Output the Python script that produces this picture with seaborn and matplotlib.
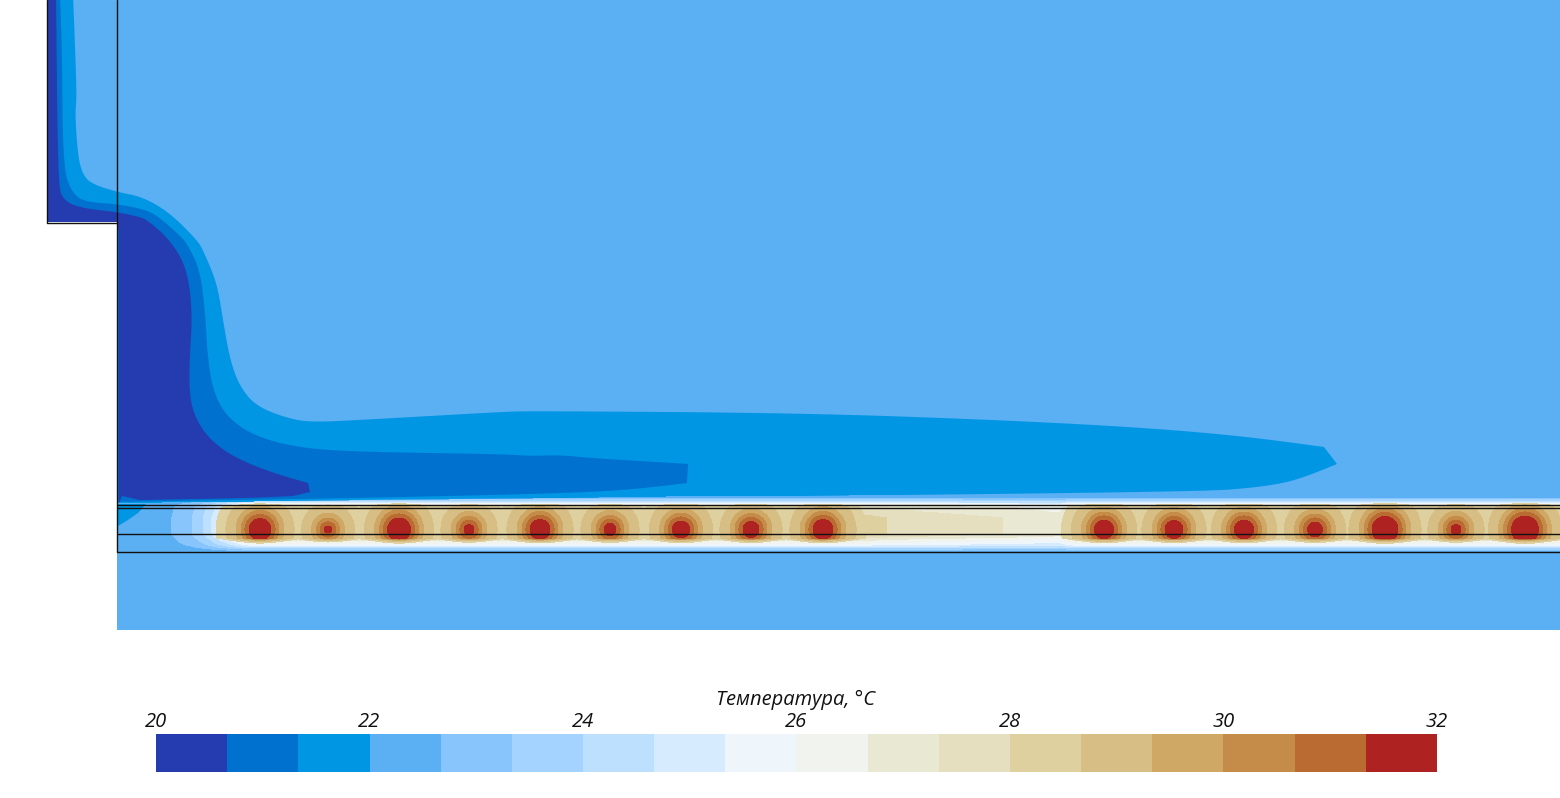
import numpy as np
import matplotlib
matplotlib.use("Agg")
import matplotlib.pyplot as plt
from matplotlib.colors import ListedColormap, BoundaryNorm
from matplotlib.patches import Polygon
import seaborn as sns

# --- colour scale -----------------------------------------------------------
band_colors = ["#243CB0", "#0071CF", "#0096E4", "#5BAFF3", "#88C5FD", "#A3D3FE",
               "#BDE0FE", "#D6EBFD", "#EEF6FB", "#F1F3EE", "#E9E8D2", "#E5DFC0",
               "#DFD09F", "#D7BE85", "#CFA866", "#C48B49", "#B96B31", "#AE2321"]
tick_values = [20, 22, 24, 26, 28, 30, 32]
colorbar_title = "Температура, °C"

# --- cold-air plume isotherm outlines -----------------------------------------
iso_22_x = [40, 73, 77, 75, 78, 83, 92, 117, 143, 170, 197, 203, 217, 223, 230, 240, 257, 293, 317, 360,
            500, 530, 800, 1000, 1150, 1250, 1324, 1337, 1310, 1285, 1250, 1210, 1000, 700, 300, 160, 110, 40]
iso_22_y = [-5, -5, 97, 113, 157, 175, 184, 192, 197, 213, 240, 250, 283, 320, 360, 387, 407, 420, 422, 420,
            412, 411, 413, 420, 428, 437, 447, 464, 475, 483, 488, 491, 494, 497, 500, 505, 530, 230]
iso_22_sharp = [0, 1, 26, 27, 36, 37]

iso_2133_x = [40, 60, 62, 63, 72, 85, 117, 147, 160, 177, 187, 200, 205, 208, 215, 230, 257, 300, 360,
              500, 530, 560, 590, 640, 688, 687, 620, 500, 300, 110, 40]
iso_2133_y = [-5, -5, 50, 167, 193, 202, 204, 210, 218, 233, 243, 270, 310, 363, 397, 420, 437, 448, 452,
              454, 456, 455, 458, 461, 464, 483, 491, 495, 499, 502, 230]
iso_2133_sharp = [0, 1, 24, 25, 29, 30]

iso_2067_x = [40, 56, 58, 63, 80, 117, 140, 147, 167, 183, 190, 192, 190, 189, 193, 207, 233, 273, 308,
              310, 293, 250, 140, 122, 119, 119, 40]
iso_2067_y = [-5, -5, 183, 200, 208, 212, 217, 220, 237, 260, 287, 320, 353, 387, 413, 437, 457, 473, 483,
              492, 496, 498, 500, 496, 503, 230, 230]
iso_2067_sharp = [0, 1, 18, 19, 20, 22, 23, 24, 25, 26]

corner_x = [118, 146, 138, 128, 118]
corner_y = [504, 504, 513, 520, 526]

# --- heated channel: readings of the temperature -------------------------------
heater_x = [260, 328, 399, 469, 540, 610, 681, 751, 823, 1104, 1174, 1244, 1315, 1385, 1456, 1525]
heater_r = [11, 3.5, 11.5, 5, 10, 6, 8.5, 8, 10, 9.5, 9, 9.5, 7.5, 13, 5, 13.5]
ring_dist = [-20, 0, 4, 8, 13, 23, 33, 33.01]
ring_temp = [32, 31.33, 30.67, 30, 29.33, 28.67, 28.0, 20]

axis_x = [117, 172, 192, 203, 212, 218, 226, 236, 250, 860, 887, 1003, 1060, 1075, 1560]
axis_t = [22.1, 22.67, 23.33, 24, 24.67, 25.33, 26, 27, 28.3, 28.3, 28, 27.33, 27.0, 28.3, 28.3]

prof_y = [495, 497, 499, 501, 503, 504, 506, 508, 512, 518, 534, 537, 539, 541, 544, 546, 548, 550, 552]
prof_t = [22.1, 22.1, 23, 24, 25, 26, 27, 27.6, 27.8, 28.3, 28.3, 27.6, 27, 26.6, 25.8, 25, 24, 23, 22.1]

edge_x = [117, 300, 500, 700, 1000, 1200, 1560]
edge_y = [503, 501, 499, 496, 495, 493, 492]

level_edges = [20 + 2 * k / 3 for k in range(19)]


def rounded(xs, ys, sharp, passes=3):
    """Round the hand-read outline between the vertices that are real corners."""
    pts = np.column_stack([xs, ys]).astype(float)
    out = []
    n = len(pts)
    sharp = sorted(sharp)
    for a, b in zip(sharp, sharp[1:] + [sharp[0] + n]):
        seg = pts[np.arange(a, b + 1) % n]
        for _ in range(passes):
            if len(seg) < 3:
                break
            q = 0.75 * seg[:-1] + 0.25 * seg[1:]
            r = 0.25 * seg[:-1] + 0.75 * seg[1:]
            mid = np.empty((2 * len(q), 2))
            mid[0::2], mid[1::2] = q, r
            seg = np.vstack([seg[0], mid[1:-1], seg[-1]])
        out.append(seg[:-1])
    return np.vstack(out)


# --- figure -----------------------------------------------------------------
sns.set_theme(style="white")
plt.rcParams["font.family"] = ["Open Sans", "DejaVu Sans"]

W, H = 1560, 798
fig = plt.figure(figsize=(W / 100, H / 100), dpi=100, facecolor="white")
ax = fig.add_axes([0, 0, 1, 1])
ax.set_xlim(0, W)
ax.set_ylim(H, 0)
ax.axis("off")

# room + inlet duct
domain = Polygon([(47, 0), (47, 222), (117, 222), (117, 630), (W, 630), (W, 0)], closed=True,
                 facecolor=band_colors[3], lw=0)
ax.add_patch(domain)

# plume
for xs, ys, sharp, col in [(iso_22_x, iso_22_y, iso_22_sharp, band_colors[2]),
                           (iso_2133_x, iso_2133_y, iso_2133_sharp, band_colors[1]),
                           (iso_2067_x, iso_2067_y, iso_2067_sharp, band_colors[0])]:
    p = Polygon(rounded(xs, ys, sharp), closed=True, facecolor=col, lw=0)
    ax.add_patch(p)
    p.set_clip_path(domain)

# channel field
gx = np.arange(117.0, W + 1, 1.0)
gy = np.arange(490.0, 552.01, 0.5)
X, Y = np.meshgrid(gx, gy)
t_low = prof_t[0]
weight = (np.interp(Y, prof_y, prof_t) - t_low) / (28.3 - t_low)
T = t_low + (np.interp(X, axis_x, axis_t) - t_low) * weight
for hx, hr in zip(heater_x, heater_r):
    d = np.hypot(X - hx, Y - 529.5) - hr
    d = d + np.clip(Y - 538, 0, None) * 6 + np.clip(507 - Y, 0, None) * 6
    T = np.maximum(T, np.interp(d, ring_dist, ring_temp))
T[Y < np.interp(X, edge_x, edge_y)] = np.nan
ax.contourf(X, Y, T, levels=level_edges, colors=band_colors, antialiased=False, zorder=3)
ax.fill(corner_x, corner_y, color=band_colors[2], lw=0, zorder=4)

# geometry lines
lw = 1.0
for yy in [504.5, 508.3, 534.3, 551.8]:
    ax.plot([117, W], [yy, yy], color="#111111", lw=lw, zorder=5, solid_capstyle="butt")
ax.plot([117, 117], [0, 552], color="#111111", lw=lw, zorder=5)
ax.plot([47, 47, 117], [0, 222.5, 222.5], color="#111111", lw=lw, zorder=5)

# colour bar
cax = fig.add_axes([156 / W, (H - 772) / H, 1281 / W, 38 / H])
cell_values = np.array([[(level_edges[i] + level_edges[i + 1]) / 2 for i in range(18)]])
sns.heatmap(cell_values, ax=cax, cbar=False, cmap=ListedColormap(band_colors),
            norm=BoundaryNorm(level_edges, 18), xticklabels=False, yticklabels=False)
cax.xaxis.tick_top()
cax.set_xticks(np.arange(0, 19, 3))
cax.set_xticklabels([str(v) for v in tick_values], fontsize=14.5, style="italic", color="#111111", rotation=0)
cax.tick_params(axis="x", length=0, pad=1.5)
cax.set_yticks([])
cax.set_title(colorbar_title, fontsize=14.5, style="italic", color="#111111", pad=21.2, x=0.4995)

fig.savefig("out.png", dpi=100, facecolor="white")
